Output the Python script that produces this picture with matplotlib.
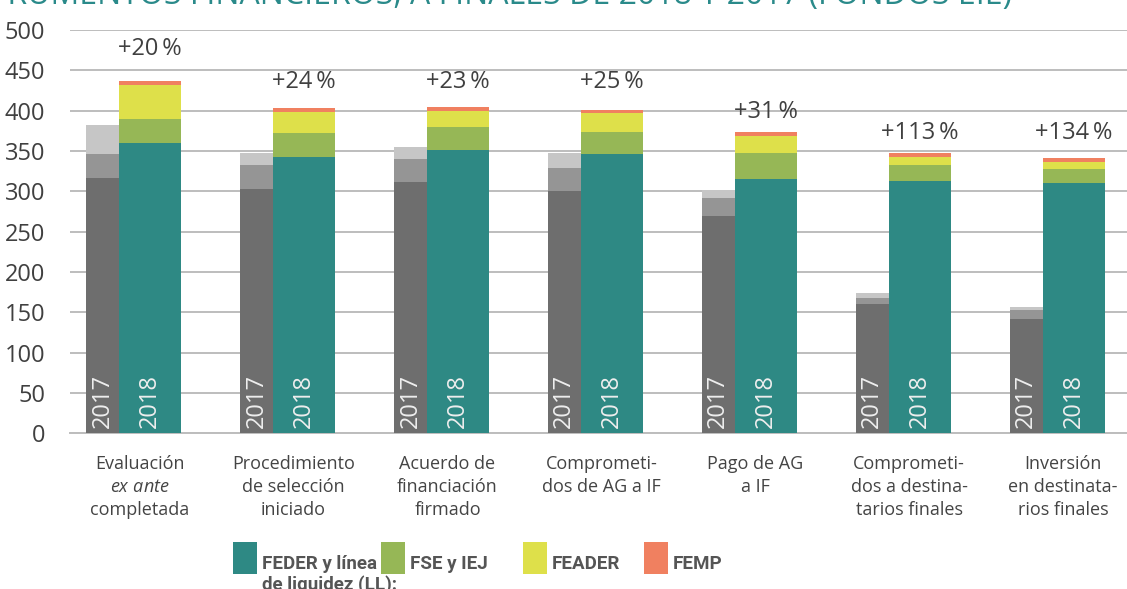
import numpy as np
import matplotlib
matplotlib.use("Agg")
import matplotlib.pyplot as plt
from matplotlib import font_manager
from matplotlib.patches import Rectangle

installed = {f.name for f in font_manager.fontManager.ttflist}
narrow = "Liberation Sans Narrow" if "Liberation Sans Narrow" in installed else "Roboto"
plt.rcParams["font.family"] = ["Open Sans", "DejaVu Sans"]
plt.rcParams["mathtext.fontset"] = "custom"
plt.rcParams["mathtext.rm"] = "Open Sans"
plt.rcParams["mathtext.it"] = "Open Sans:italic"

categories = ["Evaluación\n$\\mathit{ex\\ ante}$\ncompletada", "Procedimiento\nde selección\niniciado",
              "Acuerdo de\nfinanciación\nfirmado", "Comprometi-\ndos de AG a IF",
              "Pago de AG\na IF", "Comprometi-\ndos a destina-\ntarios finales",
              "Inversión\nen destinata-\nrios finales"]

# 2017 (shades of grey, stacked)
y17_dark = [317, 303, 311, 300, 269, 160, 142]
y17_mid = [29, 30, 29, 29, 23, 8, 11]
y17_light = [36, 15, 15, 19, 10, 6, 4]

# 2018 by fund
feder = [360, 343, 351, 346, 315, 313, 310]
fse = [30, 29, 29, 28, 32, 20, 18]
feader = [42, 26, 20, 23, 22, 9, 8]
femp = [5, 5, 5, 4, 5, 5, 5]

pct_labels = ["+20\u2009%", "+24\u2009%", "+23\u2009%", "+25\u2009%", "+31\u2009%", "+113\u2009%", "+134\u2009%"]
pct_y = [477, 435, 435, 435, 398, 372, 372]

legend_labels = ["FEDER y línea\nde liquidez (LL):", "FSE y IEJ", "FEADER", "FEMP"]

teal, green, yellow, salmon = "#2e8984", "#96b756", "#dee04a", "#f08060"
greys = ["#6e6e6e", "#959595", "#c6c6c6"]

fig = plt.figure(figsize=(11.27, 5.89), dpi=100)
ax = fig.add_axes([70 / 1127, 155.7 / 589, 1057 / 1127, 403.3 / 589])

x = np.arange(len(categories))
w17, w18 = 0.214, 0.403
x17 = x - 0.308 + w17 / 2
x18 = x - 0.308 + w17 + w18 / 2

b = np.zeros(len(x))
for vals, c in zip([y17_dark, y17_mid, y17_light], greys):
    ax.bar(x17, vals, w17, bottom=b, color=c, linewidth=0, zorder=3)
    b += np.array(vals)

b = np.zeros(len(x))
for vals, c in zip([feder, fse, feader, femp], [teal, green, yellow, salmon]):
    ax.bar(x18, vals, w18, bottom=b, color=c, linewidth=0, zorder=3)
    b += np.array(vals)

for i in range(len(x)):
    ax.text(x17[i], 6, "2017", rotation=90, ha="center", va="bottom",
            color="#eeeeee", fontsize=17, zorder=4)
    ax.text(x18[i], 6, "2018", rotation=90, ha="center", va="bottom",
            color="#eeeeee", fontsize=17, zorder=4)
    ax.text(x18[i], pct_y[i], pct_labels[i], ha="center", va="center",
            color="#404040", fontsize=17)

ax.set_ylim(0, 500)
ax.set_xlim(-0.413, 6.455)
ax.set_yticks(np.arange(0, 501, 50))
ax.yaxis.grid(True, color="#bdbdbd", linewidth=1.4, zorder=0)
ax.set_axisbelow(True)
for s in ["top", "right", "left"]:
    ax.spines[s].set_visible(False)
ax.spines["bottom"].set_color("#bdbdbd")
ax.spines["bottom"].set_linewidth(1.4)
ax.tick_params(axis="y", length=0, pad=18, labelsize=17, labelcolor="#404040")
ax.tick_params(axis="x", length=0, pad=15.5, labelsize=13, labelcolor="#444444")
ax.set_xticks(x + 0.04)
ax.set_xticklabels(categories, linespacing=1.35)

# title, mostly cut off above the picture
fig.text(1012 / 1127, 1 - 4 / 589, "INSTRUMENTOS FINANCIEROS, A FINALES DE 2018 Y 2017 (FONDOS EIE)",
         ha="right", va="baseline", fontsize=23, color="#2a8a8a")

# legend
leg_colors = [teal, green, yellow, salmon]
leg_x = [232.7, 380.7, 522.7, 644]
for lx, c, lab in zip(leg_x, leg_colors, legend_labels):
    fig.add_artist(Rectangle((lx / 1127, (589 - 574) / 589), 24 / 1127, 32 / 589,
                             transform=fig.transFigure, color=c, linewidth=0))
    fig.text((lx + 29) / 1127, 1 - 555 / 589, lab, ha="left", va="top", fontsize=13.5,
             family=narrow, weight="bold", color="#555555", linespacing=1.12)

fig.savefig("out.png", dpi=100)
